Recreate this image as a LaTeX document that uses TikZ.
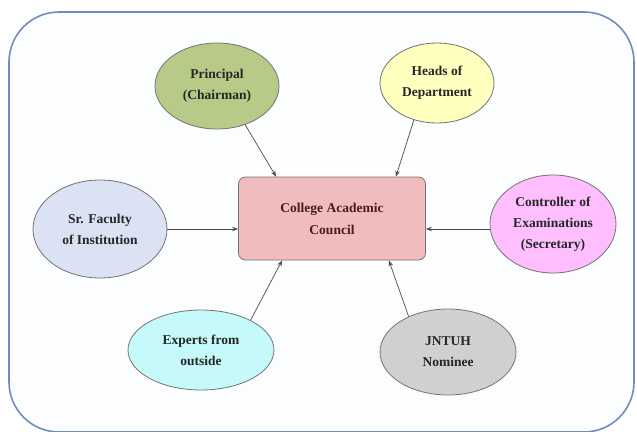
\documentclass[tikz,border=0pt]{standalone}
\usepackage{fontspec}
\setmainfont{Liberation Serif}
\usetikzlibrary{shapes.geometric,arrows.meta,calc}
\definecolor{framec}{RGB}{112,140,190}
\definecolor{framefill}{RGB}{252,253,255}
\definecolor{principalc}{RGB}{184,202,136}
\definecolor{headsc}{RGB}{255,255,190}
\definecolor{councilc}{RGB}{240,188,190}
\definecolor{facultyc}{RGB}{218,226,244}
\definecolor{controllerc}{RGB}{255,190,255}
\definecolor{expertsc}{RGB}{198,250,250}
\definecolor{jntuhc}{RGB}{208,208,208}
\begin{document}
\begin{tikzpicture}[x=1pt,y=-1pt,
  member/.style={ellipse, draw=black!55, line width=0.8pt, inner sep=0pt,
    align=center, text=black!85,
    font=\bfseries\fontsize{13.5}{21}\selectfont},
  councilbox/.style={rectangle, rounded corners=7pt, draw=black!55,
    line width=0.8pt, fill=councilc, align=center, text={rgb,255:red,70;green,30;blue,30},
    minimum width=187pt, minimum height=83pt, inner sep=0pt,
    font=\bfseries\fontsize{13.5}{22}\selectfont},
  link/.style={draw=black!70, line width=0.7pt, -{Stealth[length=6pt,width=4.5pt]}}]
  \useasboundingbox (0,0) rectangle (637,431);
  % outer frame
  \draw[framec, line width=1.6pt, fill=framefill, rounded corners=50pt]
    (9,12) rectangle (634,432);
  % council in the middle
  \node[councilbox] (council) at (332,218.5) {College Academic\\Council};
  % members
  \node[member, fill=principalc, minimum width=124pt, minimum height=86pt]
    (principal) at (217,86) {Principal\\(Chairman)};
  \node[member, fill=headsc, minimum width=114pt, minimum height=80pt]
    (heads) at (437,83) {Heads of\\Department};
  \node[member, fill=facultyc, minimum width=134pt, minimum height=98pt]
    (faculty) at (100,229) {Sr. Faculty\\of Institution};
  \node[member, fill=controllerc, minimum width=126pt, minimum height=98pt]
    (controller) at (553,224) {Controller of\\Examinations\\(Secretary)};
  \node[member, fill=expertsc, minimum width=146pt, minimum height=80pt]
    (experts) at (201,350) {Experts from\\outside};
  \node[member, fill=jntuhc, minimum width=136pt, minimum height=86pt]
    (jntuh) at (448,352) {JNTUH\\Nominee};
  % connectors
  \draw[link] (principal.-54) -- ($(council.north west)+(38,0)$);
  \draw[link] (heads.-122) -- ($(council.north east)+(-30,0)$);
  \draw[link] (faculty.east) -- (faculty.east -| council.west);
  \draw[link] (controller.west |- faculty.east) -- (faculty.east -| council.east);
  \draw[link] (experts.31) -- ($(council.south west)+(44,0)$);
  \draw[link] (jntuh.138) -- ($(council.south east)+(-37,0)$);
\end{tikzpicture}
\end{document}
